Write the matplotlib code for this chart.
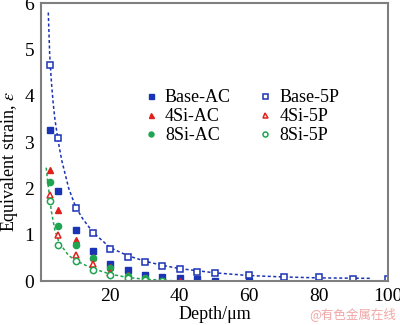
import numpy as np
import matplotlib.pyplot as plt

plt.rcParams['font.family'] = ['Liberation Serif', 'DejaVu Serif']
plt.rcParams['mathtext.fontset'] = 'stix'

BLUE = '#1b33b5'
RED = '#e0201c'
GREEN = '#1fa552'

# measured points
x_base_ac = [2.5, 5, 10, 15, 20, 25, 30, 35, 40, 45, 50, 60]
y_base_ac = [3.27, 1.94, 1.11, 0.65, 0.38, 0.24, 0.13, 0.09, 0.07, 0.04, 0.01, 0.01]
x_base_5p = [2.5, 5, 10, 15, 20, 25, 30, 35, 40, 45, 50, 60, 70, 80, 90, 100]
y_base_5p = [4.67, 3.08, 1.58, 1.03, 0.70, 0.52, 0.42, 0.32, 0.27, 0.20, 0.17, 0.13, 0.09, 0.09, 0.05, 0.04]
x_4si_ac = [2.5, 5, 10, 15, 20, 25, 30, 35, 40]
y_4si_ac = [2.39, 1.54, 0.88, 0.52, 0.31, 0.13, 0.02, 0.0, 0.0]
x_4si_5p = [2.5, 5, 10, 15, 20, 25, 30]
y_4si_5p = [1.86, 1.00, 0.56, 0.38, 0.18, 0.06, 0.02]
x_8si_ac = [2.5, 5, 10, 15, 20, 25, 30, 35]
y_8si_ac = [2.14, 1.18, 0.77, 0.51, 0.29, 0.11, 0.06, 0.01]
x_8si_5p = [2.5, 5, 10, 15, 20, 25, 30, 35]
y_8si_5p = [1.72, 0.77, 0.44, 0.24, 0.13, 0.06, 0.02, 0.0]

# fitted curves
x_fit_blue = [2.1, 2.5, 3, 3.5, 4, 5, 6, 8, 10, 12, 15, 20, 25, 30, 35, 40, 50, 60, 70, 80, 95]
y_fit_blue = [5.8, 4.9, 4.3, 3.85, 3.5, 3.0, 2.6, 2.0, 1.6, 1.35, 1.05, 0.72, 0.55, 0.43, 0.34, 0.27, 0.18, 0.12, 0.09, 0.07, 0.06]
x_fit_green = [1.5, 2, 2.5, 3, 4, 5, 6, 8, 10, 12, 15, 20, 25, 30, 35, 40]
y_fit_green = [2.45, 2.1, 1.8, 1.5, 1.1, 0.88, 0.75, 0.55, 0.45, 0.37, 0.27, 0.15, 0.08, 0.04, 0.02, 0.0]

fig = plt.figure(figsize=(4, 3.25), dpi=100)
ax = fig.add_axes([0.1025, 0.135, 0.8675, 0.855])

ax.plot(x_fit_blue, y_fit_blue, color=BLUE, lw=1.1, dashes=(2, 1.6))
ax.plot(x_fit_green, y_fit_green, color=GREEN, lw=1.1, dashes=(2, 1.6))

ms = 4.5
h1, = ax.plot(x_base_ac, y_base_ac, 's', color=BLUE, ms=ms, ls='none', label='Base-AC')
h2, = ax.plot(x_4si_ac, y_4si_ac, '^', color=RED, ms=ms, ls='none', label='4Si-AC')
h3, = ax.plot(x_8si_ac, y_8si_ac, 'o', color=GREEN, ms=ms, ls='none', label='8Si-AC')
h4, = ax.plot(x_base_5p, y_base_5p, 's', mfc='white', mec=BLUE, mew=1.1, ms=ms, ls='none', label='Base-5P')
h5, = ax.plot(x_4si_5p, y_4si_5p, '^', mfc='white', mec=RED, mew=1.1, ms=ms, ls='none', label='4Si-5P')
h6, = ax.plot(x_8si_5p, y_8si_5p, 'o', mfc='white', mec=GREEN, mew=1.1, ms=ms, ls='none', label='8Si-5P')

ax.legend(handles=[h1, h2, h3, h4, h5, h6], ncol=2, frameon=False, fontsize=13,
          loc='upper left', bbox_to_anchor=(0.30, 0.69), handlelength=0.6,
          handletextpad=0.5, columnspacing=1.6, labelspacing=0.1, markerscale=0.8,
          borderaxespad=0, borderpad=0)

ax.set_xlim(0, 100)
ax.set_ylim(0, 6)
ax.set_xticks([20, 40, 60, 80, 100])
ax.set_yticks([0, 1, 2, 3, 4, 5, 6])
ax.tick_params(length=0, labelsize=14, pad=5)
for s in ax.spines.values():
    s.set_color('#7f7f7f')
    s.set_linewidth(1.5)

ax.set_xlabel('Depth/μm', fontsize=13, labelpad=1)
ax.set_ylabel('Equivalent strain, $\\varepsilon$', fontsize=13)
ax.yaxis.set_label_coords(-0.06, 0.43)

fig.text(0.99, 0.012, '@有色金属在线', ha='right', va='bottom', fontsize=9,
         color='#f2a6a6', family=['Noto Sans CJK SC', 'DejaVu Sans'])

fig.savefig('out.png', dpi=100)
